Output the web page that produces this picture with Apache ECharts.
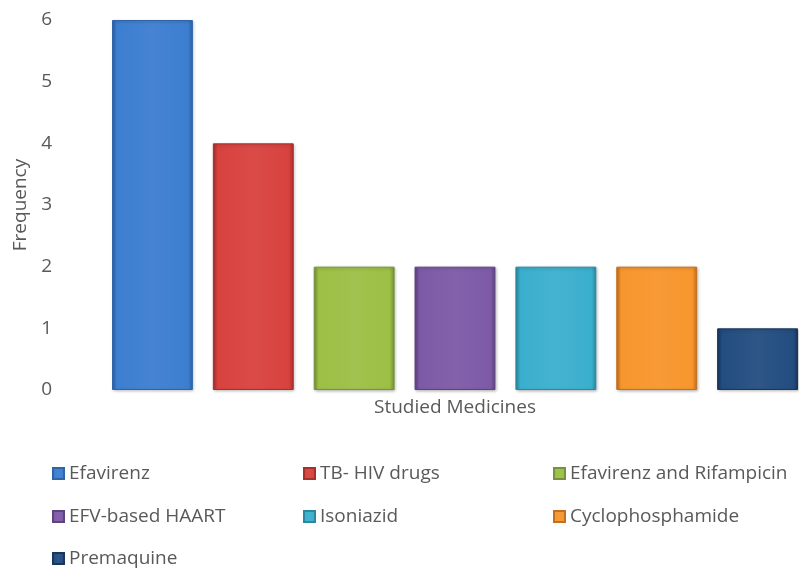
<!DOCTYPE html>
<html><head><meta charset="utf-8">
<script src="https://cdn.jsdelivr.net/npm/echarts@6/dist/echarts.min.js"></script>
<style>html,body{margin:0;padding:0;background:#fff}#c{width:799px;height:569px}</style>
</head><body><div id="c"></div>
<script>
const categories = ['Studied Medicines'];
const seriesNames = ['Efavirenz','TB- HIV drugs','Efavirenz and Rifampicin','EFV-based HAART','Isoniazid','Cyclophosphamide','Premaquine'];
const values = [6,4,2,2,2,2,1];
const yTicks = [0,1,2,3,4,5,6];
const colors = ['#3C7ED0','#D8423E','#9CBF45','#7D5AA6','#3AAFCD','#F7962C','#234D80'];
const borders = ['#2F64A6','#A8302C','#77933A','#5E4380','#2A88A0','#C0701E','#18375C'];
const FONT = '"Open Sans", sans-serif';
const FS = 19;
function lighten(hex, f){const n=parseInt(hex.slice(1),16);let r=n>>16,g=(n>>8)&255,b=n&255;r=Math.round(r+(255-r)*f);g=Math.round(g+(255-g)*f);b=Math.round(b+(255-b)*f);return 'rgb('+r+','+g+','+b+')';}
const series = seriesNames.map((name,i)=>({
  name, type:'bar', data:[values[i]], barGap:'24.7%', barCategoryGap:'0%',
  itemStyle:{
    color:{type:'linear',x:0,y:0,x2:1,y2:0,colorStops:[
      {offset:0,color:borders[i]},{offset:0.06,color:colors[i]},{offset:0.5,color:lighten(colors[i],0.05)},{offset:0.94,color:colors[i]},{offset:1,color:borders[i]}]},
    borderColor:borders[i], borderWidth:1,
    shadowColor:'rgba(0,0,0,0.25)', shadowBlur:3, shadowOffsetX:1, shadowOffsetY:1
  }
}));
const legendPos = [[52,464],[303,464],[553,464],[52,507],[303,507],[553,507],[52,549]];
const legends = seriesNames.map((n,i)=>({
  data:[n], left:legendPos[i][0], top:legendPos[i][1], padding:0, icon:'rect', itemWidth:11, itemHeight:11, itemGap:6,
  textStyle:{fontFamily:FONT,fontSize:FS,color:'#595959'}
}));
const chart = echarts.init(document.getElementById('c'));
chart.setOption({
  animation:false,
  color:colors,
  grid:{left:112,right:1,top:20,bottom:179},
  legend:legends,
  xAxis:{type:'category',data:categories,axisLine:{show:false},axisTick:{show:false},
    axisLabel:{fontFamily:FONT,fontSize:FS,color:'#595959',margin:8}},
  yAxis:{type:'value',min:yTicks[0],max:yTicks[yTicks.length-1],interval:1,
    name:'Frequency',nameLocation:'middle',nameGap:81,nameRotate:90,
    nameTextStyle:{fontFamily:FONT,fontSize:FS,color:'#595959'},
    axisLine:{show:false},axisTick:{show:false},splitLine:{show:false},
    axisLabel:{fontFamily:FONT,fontSize:FS,color:'#595959',margin:60}},
  series
});
</script></body></html>
